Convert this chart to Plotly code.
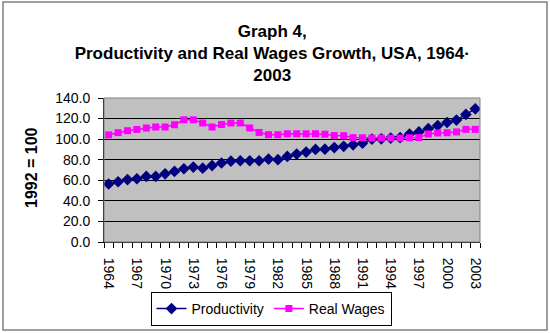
import plotly.graph_objects as go

years = list(range(1964, 2004))
productivity = [56.4, 58.6, 60.7, 61.5, 63.8, 63.8, 66.3, 68.6, 71.2, 72.8,
                71.8, 74.3, 76.8, 78.6, 79.0, 79.0, 79.0, 80.6, 80.0, 83.2,
                85.5, 87.4, 90.0, 90.2, 91.8, 93.0, 94.5, 96.0, 100.0, 100.3,
                101.0, 101.5, 105.0, 107.0, 110.2, 113.2, 116.2, 118.5, 124.0, 129.5]
real_wages = [104.2, 106.3, 108.2, 109.4, 110.8, 111.8, 111.8, 114.0, 118.8, 118.8,
              115.7, 111.8, 114.2, 115.7, 115.7, 110.9, 106.5, 104.3, 104.3, 105.2,
              105.2, 105.2, 105.2, 104.8, 103.5, 103.3, 101.5, 101.3, 101.0, 101.0,
              101.0, 101.0, 101.3, 101.5, 105.0, 106.0, 106.2, 107.0, 109.5, 109.5]
label_years = list(range(1964, 2004, 3))
y_ticks = [0, 20, 40, 60, 80, 100, 120, 140]

FONT = "Liberation Sans, Arial, sans-serif"

fig = go.Figure()
fig.add_trace(go.Scatter(
    x=years, y=productivity, name="Productivity", mode="lines+markers",
    line=dict(color="#000080", width=1.5),
    marker=dict(symbol="diamond", size=9, color="#000080"),
))
fig.add_trace(go.Scatter(
    x=years, y=real_wages, name="Real Wages", mode="lines+markers",
    line=dict(color="#FF00FF", width=1.5),
    marker=dict(symbol="square", size=7, color="#FF00FF"),
))

W, H = 550, 333
L, R, T, B = 104, 70, 98, 91
pw, ph = W - L - R, H - T - B

def px(xp):
    return (xp - L) / pw

def py(yp):
    return (H - B - yp) / ph

fig.update_layout(
    width=W, height=H,
    margin=dict(l=L, r=R, t=T, b=B, autoexpand=False),
    paper_bgcolor="white",
    plot_bgcolor="#C0C0C0",
    font=dict(family=FONT, size=14, color="black"),
    title=dict(
        text="Graph 4,<br>Productivity and Real Wages Growth, USA, 1964·<br>2003",
        font=dict(family=FONT, size=17, color="black", weight="bold"),
        x=0.495, xanchor="center", y=1 - 37 / H, yanchor="top",
    ),
    showlegend=True,
    legend=dict(
        orientation="h", x=px(271), xanchor="center", y=py(292), yanchor="top",
        bordercolor="black", borderwidth=1, bgcolor="white",
        font=dict(family=FONT, size=14), itemwidth=30,
    ),
    xaxis=dict(
        range=[1963.5, 2003.5],
        tickmode="array", tickvals=label_years, ticktext=[str(y) for y in label_years],
        tickangle=90, ticks="", showgrid=False, zeroline=False,
        showline=True, linecolor="black", linewidth=1,
        ticklabelstandoff=12,
        tickfont=dict(family=FONT, size=14),
        minor=dict(tickvals=[y - 0.5 for y in years] + [2003.5], ticks="outside",
                   ticklen=5, tickcolor="black", showgrid=False),
    ),
    yaxis=dict(
        range=[0, 140], tickmode="array", tickvals=y_ticks,
        ticktext=[f"{v:.1f}" for v in y_ticks],
        ticks="outside", ticklen=5, tickcolor="black",
        ticklabelstandoff=5,
        showgrid=True, gridcolor="black", gridwidth=1, zeroline=False,
        showline=True, linecolor="black", linewidth=1,
        tickfont=dict(family=FONT, size=14),
    ),
    shapes=[
        dict(type="rect", xref="paper", yref="paper", x0=0, x1=1, y0=0, y1=1,
             line=dict(color="#808080", width=1), fillcolor="rgba(0,0,0,0)", layer="above"),
        dict(type="rect", xref="paper", yref="paper",
             x0=px(3), x1=px(547), y0=py(330), y1=py(2),
             line=dict(color="#808080", width=1.5), fillcolor="rgba(0,0,0,0)"),
    ],
    annotations=[
        dict(text="<b>1992 = 100</b>", textangle=-90, xref="paper", yref="paper",
             x=px(31), y=py(168), xanchor="center", yanchor="middle", showarrow=False,
             font=dict(family=FONT, size=16, color="black")),
    ],
)

fig.write_html("out.html")
